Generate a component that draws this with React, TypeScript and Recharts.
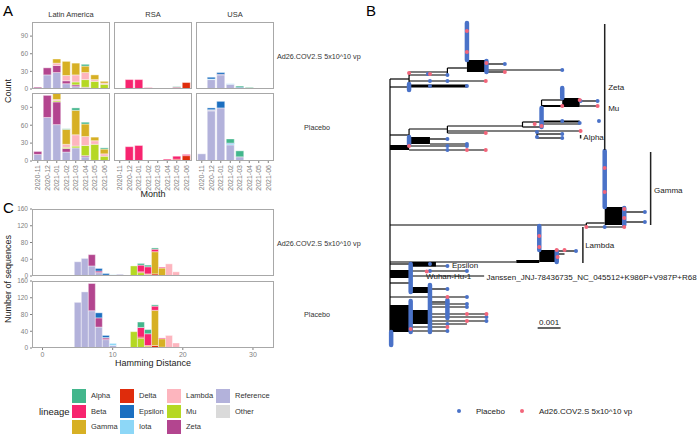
import React from 'react';
import {
  BarChart, Bar, XAxis, YAxis, ComposedChart, Scatter, ReferenceLine, ReferenceArea,
} from 'recharts';

// ---- lineage palette / stacking (bottom first, like ggplot's position_stack) ----
const LEGEND_ORDER = ['Alpha', 'Beta', 'Gamma', 'Delta', 'Epsilon', 'Iota', 'Lambda', 'Mu', 'Zeta', 'Reference', 'Other'];
const STACK_ORDER = ['Other', 'Reference', 'Zeta', 'Mu', 'Lambda', 'Iota', 'Epsilon', 'Delta', 'Gamma', 'Beta', 'Alpha'];
const LINEAGE_COLORS: Record<string, string> = {
  Alpha: '#43B68C', Beta: '#F7246F', Gamma: '#D7B024', Delta: '#DF2C0C', Epsilon: '#1C6FC0',
  Iota: '#8DD7F7', Lambda: '#FDB5BE', Mu: '#B5D824', Zeta: '#B3458F', Reference: '#B3B2DB', Other: '#DADADA',
};

// ---- panel A: sequences per month ----
const MONTHS = ['2020-11', '2020-12', '2021-01', '2021-02', '2021-03', '2021-04', '2021-05', '2021-06'];
const REGIONS = ['Latin America', 'RSA', 'USA'];

const LATAM_VACCINE: Record<string, number[]> = {
  Reference: [0, 24, 28, 9, 4, 2, 1, 0],
  Zeta: [3, 12, 12, 5, 3, 1, 0, 0],
  Mu: [0, 0, 0, 0, 5, 13, 12, 8],
  Lambda: [0, 0, 4, 9, 12, 12, 3, 2],
  Gamma: [0, 0, 7, 24, 20, 11, 8, 3],
  Alpha: [0, 0, 0, 0, 0, 3, 0, 0],
};
const LATAM_PLACEBO: Record<string, number[]> = {
  Reference: [11, 73, 61, 15, 22, 7, 1, 0],
  Zeta: [5, 37, 38, 6, 0, 2, 0, 0],
  Mu: [0, 0, 2, 2, 3, 17, 27, 8],
  Lambda: [0, 0, 2, 5, 19, 15, 6, 4],
  Gamma: [0, 0, 14, 25, 41, 21, 6, 8],
  Alpha: [0, 0, 0, 1, 4, 3, 0, 2],
};
const RSA_VACCINE: Record<string, number[]> = {
  Delta: [0, 0, 0, 0, 0, 0, 0, 11],
  Beta: [0, 16, 16, 2, 0.5, 0.5, 3, 0],
  Alpha: [0, 0, 0, 0, 0, 0, 1, 0],
};
const RSA_PLACEBO: Record<string, number[]> = {
  Delta: [0, 0, 0, 0, 0, 0, 3, 9],
  Beta: [0, 24, 26, 0, 0.5, 3, 5, 2],
  Alpha: [0, 0, 0, 1, 0, 0, 0, 0],
};
const USA_VACCINE: Record<string, number[]> = {
  Reference: [0.5, 16, 24, 8, 1, 0, 0, 0],
  Zeta: [0, 0, 1, 0, 0, 0, 0, 0],
  Mu: [0, 0, 0, 0, 0, 1, 0, 0],
  Iota: [0, 1, 0, 1, 0, 0, 0, 0],
  Epsilon: [0, 3, 3, 0, 2, 0, 0, 0],
  Gamma: [0, 0, 0, 0, 0, 1, 0, 0],
  Alpha: [0, 0, 0, 0, 2, 1, 0, 0],
};
const USA_PLACEBO: Record<string, number[]> = {
  Reference: [12, 84, 89, 27, 7, 0, 0, 0],
  Zeta: [0, 1, 0, 0, 0, 0, 0, 0],
  Iota: [0, 1, 0, 2, 0, 0, 0, 0],
  Epsilon: [0, 3, 11, 1, 0, 0, 0, 0],
  Alpha: [0, 0, 0, 7, 10, 0.5, 0, 0],
};

// ---- panel C: Hamming distance to reference ----
const DISTANCES = [5, 6, 7, 8, 9, 10, 11, 12, 13, 14, 15, 16, 17, 18, 19, 20, 21, 22, 23, 24, 25, 26, 27, 28, 29, 30, 31];
const HAM_VACCINE: Record<string, number[]> = {
  Reference: [34, 42, 24, 8, 2, 2, 4, 0, 0, 0, 0, 0, 0, 0, 0, 0, 0, 0, 0, 0, 0, 0, 0, 0, 0, 0, 0],
  Zeta: [0, 0, 27, 4, 0, 0, 0, 0, 0, 0, 0, 0, 0, 0, 0, 0, 0, 0, 0, 0, 0, 0, 0, 0, 0, 0, 0],
  Mu: [0, 0, 0, 0, 0, 0, 0, 0, 24, 8, 1, 0, 0, 0, 0, 0, 0, 0, 0, 0, 0, 0, 0, 0, 0, 0, 0],
  Lambda: [0, 0, 0, 0, 0, 0, 0, 0, 0, 0, 0, 0, 0, 29, 10, 0, 0, 0, 0, 0, 0, 0, 0, 0, 1, 0, 0],
  Iota: [0, 0, 0, 0, 0, 1, 0, 0, 0, 0, 0, 0, 0, 0, 0, 0, 0, 0, 0, 0, 0, 0, 0, 0, 0, 0, 0],
  Epsilon: [0, 0, 0, 6, 4, 0, 0, 0, 0, 0, 0, 0, 0, 0, 0, 0, 0, 0, 0, 0, 0, 0, 0, 0, 0, 0, 0],
  Delta: [0, 0, 0, 0, 0, 0, 0, 0, 0, 2, 3, 5, 1, 0, 0, 0, 0, 0, 0, 0, 0, 0, 0, 0, 0, 0, 0],
  Gamma: [0, 0, 0, 0, 0, 0, 0, 1, 0, 0, 1, 53, 18, 0, 0, 0, 0, 0, 0, 0, 0, 0, 0, 0, 0, 0, 0],
  Beta: [0, 0, 0, 0, 0, 0, 0, 0, 0, 16, 17, 6, 2, 0, 0, 0, 0, 0, 0, 0, 0, 0, 0, 0, 0, 0, 0],
  Alpha: [0, 0, 0, 0, 0, 0, 0, 0, 0, 4, 4, 3, 0, 0, 0, 0, 0, 0, 0, 0, 0, 0, 0, 0, 0, 0, 0],
};
const HAM_PLACEBO: Record<string, number[]> = {
  Reference: [109, 134, 89, 50, 20, 6, 0, 0, 0, 1, 0, 0, 0, 0, 0, 0, 1, 1, 0, 0, 0, 0, 0, 0, 0, 0, 0],
  Zeta: [0, 0, 65, 22, 4, 0, 0, 0, 0, 0, 0, 0, 0, 0, 0, 0, 0, 0, 0, 0, 0, 0, 0, 0, 0, 0, 0],
  Mu: [0, 0, 0, 0, 0, 0, 0, 0, 39, 22, 3, 0, 0, 0, 0, 0, 0, 0, 0, 0, 0, 0, 0, 0, 0, 0, 0],
  Lambda: [0, 0, 0, 0, 0, 0, 0, 0, 0, 0, 0, 0, 0, 30, 12, 0, 0, 0, 0, 0, 1, 0, 0, 0, 1, 1, 1],
  Iota: [0, 0, 0, 0, 1, 5, 0, 0, 0, 0, 0, 0, 0, 0, 0, 0, 0, 0, 0, 0, 0, 0, 0, 0, 0, 0, 0],
  Epsilon: [0, 0, 0, 12, 5, 0, 0, 0, 0, 0, 0, 0, 0, 0, 0, 0, 0, 0, 0, 0, 0, 0, 0, 0, 0, 0, 0],
  Delta: [0, 0, 0, 0, 0, 0, 0, 0, 0, 3, 0, 6, 2, 0, 0, 0, 0, 0, 0, 0, 0, 0, 0, 0, 0, 0, 0],
  Gamma: [0, 0, 0, 0, 0, 0, 0, 1, 0, 0, 3, 84, 20, 0, 0, 0, 0, 0, 0, 0, 0, 0, 0, 0, 0, 0, 0],
  Beta: [0, 0, 0, 0, 0, 0, 0, 0, 0, 23, 28, 10, 2, 0, 0, 0, 0, 0, 0, 0, 0, 0, 0, 0, 0, 0, 0],
  Alpha: [0, 0, 0, 0, 0, 0, 0, 0, 0, 13, 10, 3, 0, 0, 0, 0, 0, 0, 0, 0, 0, 0, 0, 0, 0, 0, 0],
};

// ---- panel B: tree (x in 0.001 substitutions/site, y in layout rows) ----
const TREE_BRANCHES = [
  [0, 79, 0, 333],
  [0, 79, 0.83, 79], [0.83, 72, 0.83, 87], [0.83, 72, 2.5, 72], [2.5, 68, 2.5, 75], [2.5, 68, 3.35, 68],
  [4.2, 64, 5.0, 64], [4.2, 72, 5.0, 72], [4.2, 70, 7.5, 70], [0.83, 75, 2.5, 75], [0.83, 81, 4.17, 81],
  [0, 87, 0.83, 87],
  [0, 135, 0.83, 135], [0.83, 129, 0.83, 141], [0.83, 129, 2.5, 129], [2.5, 126, 2.5, 133],
  [2.5, 126, 5.77, 126], [5.77, 122, 5.77, 127], [5.77, 122, 6.6, 122], [6.6, 100, 6.6, 124],
  [6.6, 100, 7.5, 100], [8.26, 101, 9.04, 101], [8.26, 106, 9.04, 106], [6.6, 124, 8.26, 124],
  [5.77, 127, 6.6, 127], [2.5, 131, 6.4, 131], [6.4, 131, 6.4, 138], [6.4, 131, 8.3, 131],
  [6.4, 134, 7.5, 134], [6.4, 138, 7.5, 138], [2.5, 133, 4.17, 133], [0.83, 141, 1.74, 141],
  [1.74, 139, 2.5, 139], [1.74, 144, 3.35, 144], [0, 149, 0.83, 149], [0.83, 146, 3.35, 146],
  [0.83, 150, 4.17, 150],
  [0, 225, 8.55, 225], [8.55, 223, 8.55, 227], [8.55, 223, 9.35, 223], [8.55, 227, 10.2, 227],
  [10.2, 212, 11.1, 212], [10.2, 222, 11.1, 222],
  [0, 262, 5.5, 262], [7.26, 251, 8.1, 251], [7.26, 254, 7.6, 254],
  [0, 264, 0.83, 264], [0.83, 266, 2.5, 266], [0.83, 271, 3.35, 271], [0.83, 276, 4.1, 276],
  [0, 283, 0.9, 283], [1.74, 289, 2.5, 289], [0, 297, 3.35, 297], [1.74, 302, 2.5, 302],
  [1.74, 304, 3.35, 304], [1.74, 307, 3.35, 307], [1.74, 314, 4.2, 314], [1.74, 317, 4.2, 317],
  [1.74, 321, 4.2, 321], [1.74, 324, 3.35, 324], [0.9, 327, 2.5, 327], [0.9, 331, 2.5, 331],
];
// collapsed dense sub-trees drawn as solid black
const TREE_BLOCKS = [
  [3.35, 4.2, 60, 72], [0.83, 3.35, 84.5, 87.5], [7.5, 8.26, 98, 107], [6.6, 7.5, 105, 107],
  [6.6, 8.26, 120.5, 122.5], [0.83, 1.74, 137, 144], [0, 0.83, 145, 150], [9.35, 10.2, 207, 225],
  [5.5, 6.5, 260, 263], [6.5, 7.26, 250, 262], [0.83, 2.0, 262, 266.5], [0, 0.83, 270, 278],
  [0.83, 1.74, 287, 293], [0, 0.9, 305, 332], [0.9, 1.74, 310, 324],
];
// stacks of identical placebo tips
const DOT_COLUMNS = [
  [3.35, 23, 60], [4.2, 61, 72], [0.83, 84, 90], [7.5, 88, 98], [6.6, 108, 127], [0.83, 137, 145],
  [9.35, 151, 207], [10.2, 208, 225], [6.5, 226, 250], [7.26, 251, 262], [0.9, 264, 292],
  [0.9, 301, 332], [1.74, 285, 332], [2.5, 300, 318], [0.05, 332, 345],
];
const PLACEBO_TIPS = [
  [5.0, 64], [7.5, 70], [1.65, 74], [2.5, 75], [1.74, 81], [2.5, 81], [1.74, 86], [3.35, 86],
  [9.04, 101], [8.3, 101], [9.1, 121], [8.26, 123], [7.5, 121], [6.4, 132], [7.5, 134], [7.5, 138],
  [6.4, 137], [2.5, 139], [3.35, 144], [2.5, 146], [3.35, 146], [2.5, 150], [11.1, 212], [11.1, 222],
  [9.35, 227], [8.1, 251], [1.74, 264], [2.5, 266], [1.74, 271], [3.35, 271], [2.5, 289], [3.35, 297],
  [2.5, 302], [3.35, 304], [3.35, 307], [4.2, 317], [4.2, 321], [2.5, 331], [2.5, 324],
];
const VACCINE_TIPS = [
  [3.35, 31], [3.35, 52], [4.2, 63], [5.0, 72], [4.17, 81], [0.83, 73], [1.74, 74],
  [9.04, 106], [7.5, 106], [8.26, 100], [6.6, 126], [6.3, 124], [4.17, 133], [8.3, 131],
  [0.83, 146], [3.35, 150], [4.17, 150], [9.35, 168], [9.35, 192],
  [10.2, 209], [10.2, 218], [8.55, 227], [10.2, 227], [6.5, 236], [6.5, 247],
  [7.26, 250], [7.6, 250], [7.3, 257], [1.6, 271.5], [2.5, 297], [3.35, 314], [4.2, 314], [3.35, 321],
  [2.5, 327], [0.9, 329],
];
const CLADE_BARS = [[9.35, 24, 150], [11.35, 152, 225], [8.4, 227, 263], [8.3, 135, 138.5]];
const TREE_LABELS = [
  { label: 'Zeta', x: 9.5, y: 87 }, { label: 'Mu', x: 9.5, y: 108 }, { label: 'Alpha', x: 8.42, y: 137 },
  { label: 'Gamma', x: 11.5, y: 190 }, { label: 'Lambda', x: 8.5, y: 245 }, { label: 'Epsilon', x: 2.7, y: 265 },
  { label: 'Wuhan-Hu-1', x: 1.57, y: 276 },
  { label: 'Janssen_JNJ-78436735_NC_045512+K986P+V987P+R68', x: 4.2, y: 277 },
  { label: '0.001', x: 6.93, y: 322, anchor: 'middle' },
];
const SCALE_BAR = [6.43, 7.43, 328];

const PLACEBO_COLOR = '#4A72C8';
const VACCINE_COLOR = '#F2657A';
const GREY = '#808080';

type Row = Record<string, number | string>;

const buildRows = (keyName: string, keys: (string | number)[], series: Record<string, number[]>): Row[] =>
  keys.map((k, i) => {
    const row: Row = { [keyName]: k };
    STACK_ORDER.forEach((lin) => { row[lin] = series[lin] ? series[lin][i] : 0; });
    return row;
  });

const MonthTick = (props: any) => {
  const { x, y, payload } = props;
  return (
    <text x={x} y={y} transform={`rotate(-90 ${x} ${y})`} textAnchor="end" dy={2.5} fontSize={7} fill={GREY}>
      {payload.value}
    </text>
  );
};

type FacetProps = {
  rows: Row[]; xKey: string; left: number; top: number; width: number; height: number;
  showY: boolean; showX: boolean; yDomain: [number, number]; yTicks: number[];
  numeric?: boolean; xDomain?: [number, number]; xTicks?: number[];
};

const Facet = (p: FacetProps) => {
  const yw = p.showY ? 16 : 0;
  const xh = p.showX ? (p.numeric ? 14 : 34) : 0;
  const padTop = 5;
  const padBottom = p.showX ? 0 : 5;
  const cw = p.width + yw;
  const ch = p.height + xh + padTop + padBottom;
  return (
    <div style={{ position: 'absolute', left: p.left - yw, top: p.top - padTop, width: cw, height: ch }}>
      <BarChart width={cw} height={ch} data={p.rows} margin={{ top: padTop, right: 0, bottom: padBottom, left: 0 }}
        barCategoryGap={p.numeric ? '3%' : '8%'}>
        {p.numeric ? (
          <XAxis dataKey={p.xKey} type="number" domain={p.xDomain} ticks={p.xTicks} allowDataOverflow
            hide={!p.showX} height={xh || 14} tickSize={2} axisLine={false} interval={0}
            tickLine={{ stroke: GREY }} tick={{ fontSize: 7, fill: GREY }} />
        ) : (
          <XAxis dataKey={p.xKey} type="category" hide={!p.showX} height={xh || 34} tickSize={2}
            axisLine={false} tickLine={{ stroke: GREY }} interval={0} tick={<MonthTick />}
            padding={{ left: 1, right: 1 }} />
        )}
        <YAxis type="number" domain={p.yDomain} ticks={p.yTicks} allowDataOverflow hide={!p.showY}
          width={16} tickSize={2} axisLine={false} interval={0}
          tickLine={{ stroke: GREY }} tick={{ fontSize: 6.5, fill: GREY }} />
        {STACK_ORDER.map((lin) => (
          <Bar key={lin} dataKey={lin} stackId="s" fill={LINEAGE_COLORS[lin]} stroke="#fff"
            strokeWidth={0.4} isAnimationActive={false} />
        ))}
      </BarChart>
      <div style={{
        position: 'absolute', left: yw, top: padTop, width: p.width, height: p.height,
        border: '1px solid #a8a8a8', boxSizing: 'border-box', pointerEvents: 'none',
      }} />
    </div>
  );
};

const dotShape = (color: string) => (props: any) => <circle cx={props.cx} cy={props.cy} r={2} fill={color} />;
const labelShape = (props: any) => (
  <text x={props.cx} y={props.cy} dy={3} fontSize={8} fill="#1a1a1a"
    textAnchor={props.payload?.anchor ?? 'start'}>{props.payload?.label}</text>
);

const Tree = () => (
  <div style={{ position: 'absolute', left: 380, top: 0, width: 320, height: 360 }}>
    <ComposedChart width={320} height={360} margin={{ top: 0, right: 0, bottom: 0, left: 10 }}>
      <XAxis type="number" dataKey="x" domain={[0, 13.5]} hide allowDataOverflow />
      <YAxis type="number" dataKey="y" domain={[0, 360]} reversed hide allowDataOverflow />
      {TREE_BLOCKS.map(([x1, x2, y1, y2], i) => (
        <ReferenceArea key={`blk-${i}`} x1={x1} x2={x2} y1={y1} y2={y2} fill="#000" fillOpacity={1} stroke="none" />
      ))}
      {TREE_BRANCHES.map(([x1, y1, x2, y2], i) => (
        <ReferenceLine key={`br-${i}`} segment={[{ x: x1, y: y1 }, { x: x2, y: y2 }]} stroke="#000" strokeWidth={1.2} />
      ))}
      {DOT_COLUMNS.map(([x, y1, y2], i) => (
        <ReferenceLine key={`col-${i}`} segment={[{ x, y: y1 }, { x, y: y2 }]} stroke={PLACEBO_COLOR}
          strokeWidth={4.5} strokeLinecap="round" />
      ))}
      {CLADE_BARS.map(([x, y1, y2], i) => (
        <ReferenceLine key={`clade-${i}`} segment={[{ x, y: y1 }, { x, y: y2 }]} stroke="#222" strokeWidth={1.5} />
      ))}
      <ReferenceLine segment={[{ x: SCALE_BAR[0], y: SCALE_BAR[2] }, { x: SCALE_BAR[1], y: SCALE_BAR[2] }]}
        stroke="#000" strokeWidth={1.2} />
      <Scatter data={PLACEBO_TIPS.map(([x, y]) => ({ x, y }))} shape={dotShape(PLACEBO_COLOR)} isAnimationActive={false} />
      <Scatter data={VACCINE_TIPS.map(([x, y]) => ({ x, y }))} shape={dotShape(VACCINE_COLOR)} isAnimationActive={false} />
      <Scatter data={TREE_LABELS} shape={labelShape} isAnimationActive={false} />
    </ComposedChart>
  </div>
);

const A_LEFTS = [32, 114, 196];
const A_W = 78;

export default function App() {
  const aTop = [LATAM_VACCINE, RSA_VACCINE, USA_VACCINE];
  const aBottom = [LATAM_PLACEBO, RSA_PLACEBO, USA_PLACEBO];
  const legendCols = [LEGEND_ORDER.slice(0, 3), LEGEND_ORDER.slice(3, 6), LEGEND_ORDER.slice(6, 9), LEGEND_ORDER.slice(9)];
  const legendX = [72, 120, 167, 216];

  return (
    <div style={{
      position: 'absolute', left: 0, top: 0, width: 700, height: 435, background: '#fff', overflow: 'hidden',
      fontFamily: '"Liberation Sans", Arial, sans-serif',
    }}>
      {aTop.map((s, i) => (
        <Facet key={`at-${i}`} rows={buildRows('month', MONTHS, s)} xKey="month" left={A_LEFTS[i]} top={22}
          width={A_W} height={67} showY={i === 0} showX={false} yDomain={[0, 114]} yTicks={[0, 30, 60, 90]} />
      ))}
      {aBottom.map((s, i) => (
        <Facet key={`ab-${i}`} rows={buildRows('month', MONTHS, s)} xKey="month" left={A_LEFTS[i]} top={93}
          width={A_W} height={68} showY={i === 0} showX yDomain={[0, 114]} yTicks={[0, 30, 60, 90]} />
      ))}
      <Facet rows={buildRows('d', DISTANCES, HAM_VACCINE)} xKey="d" numeric left={32} top={209} width={242}
        height={67} showY showX={false} yDomain={[0, 160]} yTicks={[0, 40, 80, 120, 160]}
        xDomain={[-1.5, 33]} xTicks={[0, 10, 20, 30]} />
      <Facet rows={buildRows('d', DISTANCES, HAM_PLACEBO)} xKey="d" numeric left={32} top={281} width={242}
        height={67} showY showX yDomain={[0, 160]} yTicks={[0, 40, 80, 120, 160]}
        xDomain={[-1.5, 33]} xTicks={[0, 10, 20, 30]} />

      <Tree />

      {/* lineage legend */}
      {legendCols.map((col, ci) => col.map((lin, ri) => (
        <div key={lin}>
          <div style={{
            position: 'absolute', left: legendX[ci], top: 389 + ri * 15.5, width: 14, height: 13.5,
            background: LINEAGE_COLORS[lin],
          }} />
          <div style={{
            position: 'absolute', left: legendX[ci] + 19, top: 389 + ri * 15.5, height: 13.5, lineHeight: '13.5px',
            fontSize: 7.5, color: '#333',
          }}>{lin}</div>
        </div>
      )))}

      <svg width={700} height={435} style={{ position: 'absolute', left: 0, top: 0, pointerEvents: 'none' }}>
        <g fontSize={15} fill="#000">
          <text x={3} y={16}>A</text>
          <text x={366} y={16}>B</text>
          <text x={3} y={213}>C</text>
        </g>
        <g fontSize={7.5} fill="#333">
          {REGIONS.map((r, i) => (
            <text key={r} x={A_LEFTS[i] + A_W / 2} y={17} textAnchor="middle">{r}</text>
          ))}
        </g>
        <g fontSize={7.2} fill="#333">
          <text x={277} y={58.5}>Ad26.COV2.S 5x10^10 vp</text>
          <text x={317} y={129.5} textAnchor="middle">Placebo</text>
          <text x={277} y={245.5}>Ad26.COV2.S 5x10^10 vp</text>
          <text x={317} y={316.5} textAnchor="middle">Placebo</text>
        </g>
        <g fontSize={9} fill="#222">
          <text transform="translate(11,91) rotate(-90)" textAnchor="middle">Count</text>
          <text x={153} y={197} textAnchor="middle">Month</text>
          <text transform="translate(11,279) rotate(-90)" textAnchor="middle">Number of sequences</text>
          <text x={153} y={366} textAnchor="middle">Hamming Distance</text>
          <text x={39} y={415} fontSize={9.5} fill="#222">lineage</text>
        </g>
        <g fontSize={8} fill="#222">
          <circle cx={459} cy={411} r={2} fill={PLACEBO_COLOR} />
          <text x={476} y={414}>Placebo</text>
          <circle cx={522} cy={411} r={2} fill={VACCINE_COLOR} />
          <text x={539} y={414}>Ad26.COV2.S 5x10^10 vp</text>
        </g>
      </svg>
    </div>
  );
}
